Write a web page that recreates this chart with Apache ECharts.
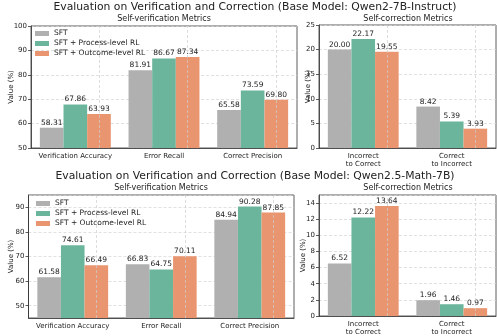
<!DOCTYPE html>
<html>
<head>
<meta charset="utf-8">
<script src="https://cdn.jsdelivr.net/npm/echarts@6/dist/echarts.min.js"></script>
<style>html,body{margin:0;padding:0;background:#fff}#c{width:497px;height:336px}</style>
</head>
<body>
<div id="c"></div>
<script>
const categoriesVerif = ['Verification Accuracy', 'Error Recall', 'Correct Precision'];
const categoriesCorr = ['Incorrect\nto Correct', 'Correct\nto Incorrect'];
const seriesNames = ['SFT', 'SFT + Process-level RL', 'SFT + Outcome-level RL'];

const qwen2VerifSFT = [58.31, 81.91, 65.58];
const qwen2VerifProcess = [67.86, 86.67, 73.59];
const qwen2VerifOutcome = [63.93, 87.34, 69.80];
const qwen2CorrSFT = [20.00, 8.42];
const qwen2CorrProcess = [22.17, 5.39];
const qwen2CorrOutcome = [19.55, 3.93];

const mathVerifSFT = [61.58, 66.83, 84.94];
const mathVerifProcess = [74.61, 64.75, 90.28];
const mathVerifOutcome = [66.49, 70.11, 87.85];
const mathCorrSFT = [6.52, 1.96];
const mathCorrProcess = [12.22, 1.46];
const mathCorrOutcome = [13.64, 0.97];

const titleTop = 'Evaluation on Verification and Correction (Base Model: Qwen2-7B-Instruct)';
const titleBottom = 'Evaluation on Verification and Correction (Base Model: Qwen2.5-Math-7B)';
const subVerif = 'Self-verification Metrics';
const subCorr = 'Self-correction Metrics';
const yName = 'Value (%)';

const colors = ['#b0b0b0', '#6cb59d', '#e9956f'];
const FONT = 'DejaVu Sans';
const AX = '#333';

const grids = [
  { left: 31, top: 26, width: 266, height: 122, show: true, borderColor: AX, borderWidth: 0.8 },
  { left: 319, top: 25, width: 177, height: 123, show: true, borderColor: AX, borderWidth: 0.8 },
  { left: 28, top: 195, width: 266, height: 123, show: true, borderColor: AX, borderWidth: 0.8 },
  { left: 319, top: 195, width: 177, height: 123, show: true, borderColor: AX, borderWidth: 0.8 }
];

function xAx(gi, cats) {
  return {
    type: 'category', gridIndex: gi, data: cats,
    axisLine: { lineStyle: { color: AX, width: 0.8 } },
    axisTick: { alignWithLabel: true, length: 3, lineStyle: { color: AX, width: 0.8 } },
    axisLabel: { interval: 0, fontSize: 7, color: '#222', margin: 4, lineHeight: 8, fontFamily: FONT, hideOverlap: false },
    splitLine: { show: false }
  };
}
function yAx(gi, min, max, interval, nameGap) {
  const a = {
    type: 'value', gridIndex: gi, min: min, max: max,
    name: yName, nameLocation: 'middle', nameGap: nameGap, nameMoveOverlap: false,
    nameTextStyle: { fontSize: 7, color: '#222', fontFamily: FONT },
    axisLine: { show: true, lineStyle: { color: AX, width: 0.8 } },
    axisTick: { show: true, length: 3, lineStyle: { color: AX, width: 0.8 } },
    axisLabel: { fontSize: 7, color: '#222', margin: 4, fontFamily: FONT, showMinLabel: true, showMaxLabel: true },
    splitLine: { show: true, lineStyle: { type: [3, 2], color: '#d4d4d4', width: 0.7 } }
  };
  if (interval) a.interval = interval; else a.splitNumber = 5;
  return a;
}

const yAxes = [
  yAx(0, 50, 100, 10, 16),
  yAx(1, 0, 25, 5, 7),
  yAx(2, 45, 95, null, 13.5),
  yAx(3, 0, 15, 2, 12)
];
yAxes[2].axisLabel.showMinLabel = false;
yAxes[2].axisLabel.showMaxLabel = false;
yAxes[3].axisLabel.showMaxLabel = false;

function vLines(cats) {
  return {
    silent: true, symbol: ['none', 'none'], animation: false,
    label: { show: false },
    lineStyle: { type: [3, 2], color: '#cfcfcf', width: 0.7 },
    data: cats.map(c => ({ xAxis: c }))
  };
}

function bars(gi, cats, dataSets) {
  return dataSets.map((d, i) => {
    const s = {
      type: 'bar', name: seriesNames[i], xAxisIndex: gi, yAxisIndex: gi,
      data: d, barGap: '0%', barCategoryGap: '20%',
      itemStyle: { color: colors[i] },
      label: {
        show: true, position: 'top', distance: 1, fontSize: 7.5, color: '#222', fontFamily: FONT,
        formatter: p => Number(p.value).toFixed(2)
      }
    };
    if (i === 2) s.markLine = vLines(cats);
    return s;
  });
}

const series = [].concat(
  bars(0, categoriesVerif, [qwen2VerifSFT, qwen2VerifProcess, qwen2VerifOutcome]),
  bars(1, categoriesCorr, [qwen2CorrSFT, qwen2CorrProcess, qwen2CorrOutcome]),
  bars(2, categoriesVerif, [mathVerifSFT, mathVerifProcess, mathVerifOutcome]),
  bars(3, categoriesCorr, [mathCorrSFT, mathCorrProcess, mathCorrOutcome])
);

function ttl(text, x, y, size) {
  return { text: text, left: x, top: y, textAlign: 'center', padding: 0,
    textStyle: { fontSize: size, fontWeight: 'normal', color: '#222', fontFamily: FONT } };
}

function leg(left, top) {
  return {
    data: seriesNames, orient: 'vertical', left: left, top: top,
    icon: 'rect', itemWidth: 14, itemHeight: 5, itemGap: 1, padding: 0,
    textStyle: { fontSize: 7.5, color: '#222', fontFamily: FONT, lineHeight: 9 },
    selectedMode: false
  };
}

const chart = echarts.init(document.getElementById('c'), null, { renderer: 'canvas' });
chart.setOption({
  animation: false,
  color: colors,
  textStyle: { fontFamily: FONT },
  title: [
    ttl(titleTop, 255, 2, 10.8),
    ttl(subVerif, 164, 15, 8),
    ttl(subCorr, 408, 15, 8),
    ttl(titleBottom, 255, 171, 10.8),
    ttl(subVerif, 161, 184, 8),
    ttl(subCorr, 408, 184, 8)
  ],
  legend: [leg(35, 29), leg(36, 199)],
  grid: grids,
  xAxis: [xAx(0, categoriesVerif), xAx(1, categoriesCorr), xAx(2, categoriesVerif), xAx(3, categoriesCorr)],
  yAxis: yAxes,
  series: series
});
</script>
</body>
</html>
